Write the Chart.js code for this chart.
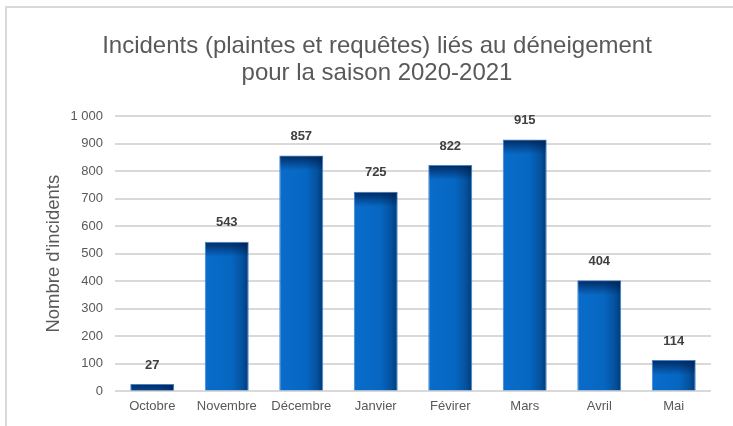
<!DOCTYPE html>
<html>
<head>
<meta charset="utf-8">
<script src="https://cdn.jsdelivr.net/npm/chart.js@4/dist/chart.umd.min.js"></script>
<style>
  html,body{margin:0;padding:0;background:#fff;overflow:hidden;width:733px;height:426px;}
  #frame{position:absolute;left:5px;top:6px;width:800px;height:500px;border:2px solid #d9d9d9;box-sizing:border-box;}
  #wrap{position:absolute;left:0;top:0;width:750px;height:426px;}
</style>
</head>
<body>
<div id="frame"></div>
<div id="wrap"><canvas id="c"></canvas></div>
<script>
const categories = ['Octobre','Novembre','Décembre','Janvier','Févirer','Mars','Avril','Mai'];
const incidents = [27, 543, 857, 725, 822, 915, 404, 114];
const titleLines = ['Incidents (plaintes et requêtes) liés au déneigement','pour la saison 2020-2021'];
const yAxisTitle = "Nombre d'incidents";

function fmt(v){ return String(v).replace(/\B(?=(\d{3})+(?!\d))/g,' '); }

const BAR_FRAC = 0.59;
const FONT = '"Liberation Sans", Arial, sans-serif';

function barFill(ctx){
  const chart = ctx.chart;
  const xs = chart.scales.x;
  if(!xs || !chart.chartArea || !isFinite(xs.width) || xs.width<=0) return '#0066c0';
  const cx = xs.getPixelForValue(ctx.dataIndex);
  const w = xs.width / categories.length * BAR_FRAC;
  const g = chart.ctx.createLinearGradient(cx - w/2, 0, cx + w/2, 0);
  g.addColorStop(0, '#0a6ccb');
  g.addColorStop(0.6, '#0667c2');
  g.addColorStop(0.85, '#0452a0');
  g.addColorStop(1, '#013b75');
  return g;
}

const overlay = {
  id:'overlay',
  afterDatasetsDraw(chart){
    const c = chart.ctx;
    const meta = chart.getDatasetMeta(0);
    meta.data.forEach((bar,i)=>{
      const x0 = bar.x - bar.width/2 + 1, x1 = bar.x + bar.width/2 - 1;
      const top = bar.y + 1, h = Math.min(14, bar.base - bar.y - 1);
      if(h>0){
        const g = c.createLinearGradient(0, top, 0, top + 14);
        g.addColorStop(0, 'rgba(0,25,70,0.75)');
        g.addColorStop(1, 'rgba(0,25,70,0)');
        c.save();
        c.fillStyle = g;
        c.fillRect(x0, top, x1-x0, h);
        c.restore();
      }
      c.save();
      c.font = 'bold 13px ' + FONT;
      c.fillStyle = '#404040';
      c.textAlign = 'center';
      c.textBaseline = 'middle';
      c.fillText(fmt(incidents[i]), bar.x, bar.y - 19);
      c.restore();
    });
  }
};

new Chart(document.getElementById('c'), {
  type:'bar',
  data:{
    labels: categories,
    datasets:[{
      data: incidents,
      backgroundColor: barFill,
      borderColor: '#3f86d4',
      borderWidth: 1,
      categoryPercentage: 1,
      barPercentage: BAR_FRAC
    }]
  },
  options:{
    responsive:true,
    maintainAspectRatio:false,
    animation:false,
    layout:{padding:{left:43, right:39, top:0, bottom:5}},
    plugins:{
      legend:{display:false},
      tooltip:{enabled:false},
      title:{
        display:true,
        text:titleLines,
        color:'#595959',
        font:{family:FONT, size:24, weight:'normal', lineHeight:1.125},
        padding:{top:33, bottom:29}
      }
    },
    scales:{
      x:{
        grid:{display:false, drawTicks:false},
        border:{display:false},
        ticks:{color:'#595959', font:{family:FONT, size:13}, padding:7}
      },
      y:{
        min:0, max:1000,
        afterFit(scale){ scale.width = 72; },
        grid:{color:'#d9d9d9', lineWidth:2, drawTicks:false},
        border:{display:false},
        ticks:{stepSize:100, color:'#595959', padding:12,
          font:{family:FONT, size:13},
          callback:(v)=>fmt(v)},
        title:{display:true, text:yAxisTitle, color:'#595959',
          font:{family:FONT, size:18.5}, padding:{top:0,bottom:8}}
      }
    }
  },
  plugins:[overlay]
});
</script>
</body>
</html>
